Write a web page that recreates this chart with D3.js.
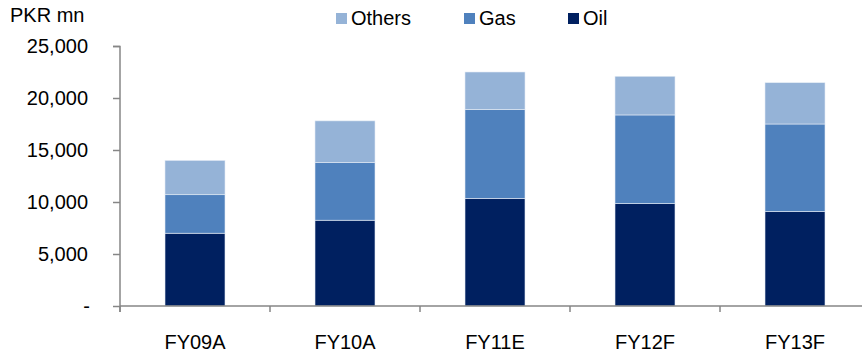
<!DOCTYPE html>
<html>
<head>
<meta charset="utf-8">
<script src="https://cdn.jsdelivr.net/npm/d3@7"></script>
<style>
  html, body { margin: 0; padding: 0; background: #fff; }
  svg { display: block; font-family: "Liberation Sans", Arial, sans-serif; }
</style>
</head>
<body>
<svg id="chart" width="862" height="356"></svg>
<script>
// Revenue mix by fiscal year (PKR mn)
const years = ["FY09A", "FY10A", "FY11E", "FY12F", "FY13F"];
const oil = [7000, 8250, 10350, 9850, 9080];
const gas = [3700, 5550, 8550, 8520, 8420];
const others = [3300, 4000, 3600, 3720, 3970];
const yTicks = [0, 5000, 10000, 15000, 20000, 25000];
const seriesNames = ["Oil", "Gas", "Others"];
const legendOrder = ["Others", "Gas", "Oil"];

const colors = { Oil: "#002060", Gas: "#4F81BD", Others: "#95B3D7" };
const axisColor = "#868686";

const svg = d3.select("#chart");
const plotLeft = 120, plotRight = 870, plotTop = 46, plotBottom = 306;

const rows = years.map((yr, i) => ({ year: yr, Oil: oil[i], Gas: gas[i], Others: others[i] }));
const stacked = d3.stack().keys(seriesNames)(rows);

const x = d3.scaleBand().domain(years).range([plotLeft, plotRight]).paddingInner(0.6).paddingOuter(0.3);
const y = d3.scaleLinear().domain([0, 25000]).range([plotBottom, plotTop]);

// stacked bars
svg.append("g").selectAll("g")
  .data(stacked)
  .join("g")
  .attr("fill", d => colors[d.key])
  .selectAll("rect")
  .data(d => d)
  .join("rect")
  .attr("x", d => x(d.data.year))
  .attr("width", x.bandwidth())
  .attr("y", d => y(d[1]))
  .attr("height", d => y(d[0]) - y(d[1]))
  .attr("stroke", "#e4ecf5")
  .attr("stroke-width", 0.6);

// y axis
const fmt = v => v === 0 ? "-" : d3.format(",")(v);
const yAxis = svg.append("g")
  .attr("transform", `translate(${plotLeft},0)`)
  .call(d3.axisLeft(y).tickValues(yTicks).tickFormat(fmt).tickSize(7).tickPadding(25));
yAxis.select(".domain").attr("d", `M-7,${plotTop + 0.5}H0V${plotBottom + 6}`);

// x axis with ticks at category boundaries
const xAxisG = svg.append("g").attr("transform", `translate(0,${plotBottom})`);
xAxisG.append("line").attr("x1", plotLeft).attr("x2", plotRight).attr("y1", 0).attr("y2", 0);
const step = x.step();
const bounds = d3.range(years.length + 1).map(i => plotLeft + i * step);
xAxisG.selectAll("line.tk").data(bounds).join("line")
  .attr("class", "tk")
  .attr("x1", d => d).attr("x2", d => d)
  .attr("y1", 0).attr("y2", 6);
xAxisG.selectAll("line").attr("stroke", axisColor).attr("stroke-width", 1.5);
xAxisG.selectAll("text").data(years).join("text")
  .attr("x", d => x(d) + x.bandwidth() / 2)
  .attr("y", 43)
  .attr("text-anchor", "middle")
  .attr("font-size", 20)
  .attr("fill", "#000")
  .text(d => d);

yAxis.selectAll("path, line").attr("stroke", axisColor).attr("stroke-width", 1.5);
yAxis.selectAll("text").attr("font-size", 20).attr("fill", "#000")
  .attr("font-family", '"Liberation Sans", Arial, sans-serif')
  .attr("dy", "0.34em");
yAxis.selectAll("text").filter(d => d === 0).attr("dx", 2);

// unit label
svg.append("text")
  .attr("x", 10).attr("y", 22)
  .attr("font-size", 20)
  .text("PKR mn");

// legend
const legendX = { Others: 336, Gas: 464, Oil: 568 };
const leg = svg.append("g").selectAll("g").data(legendOrder).join("g")
  .attr("transform", d => `translate(${legendX[d]},13)`);
leg.append("rect").attr("width", 11).attr("height", 11).attr("fill", d => colors[d]);
leg.append("text").attr("x", 15).attr("y", 12).attr("font-size", 20).text(d => d);
</script>
</body>
</html>
